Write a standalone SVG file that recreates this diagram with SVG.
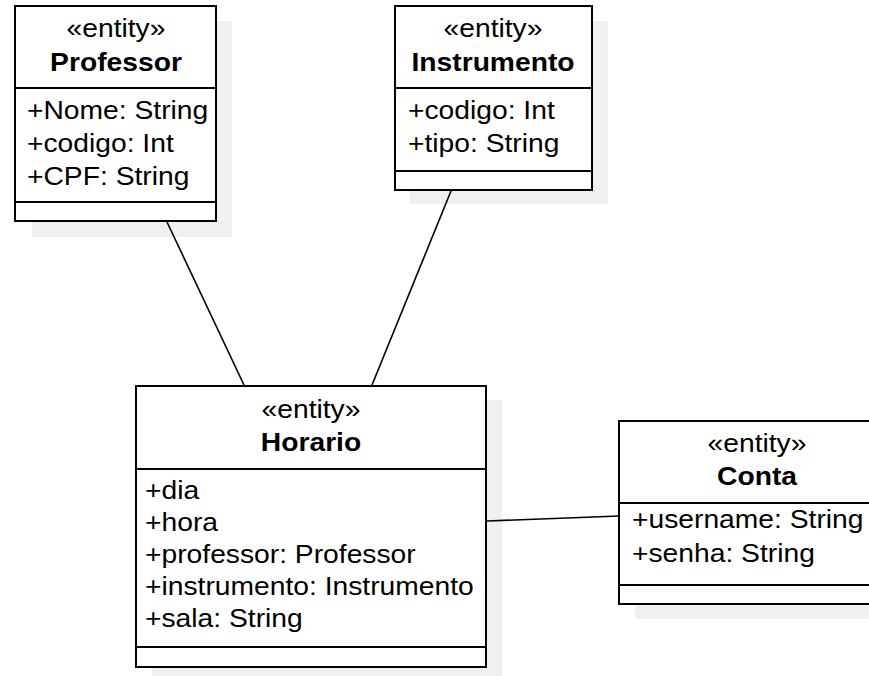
<svg xmlns="http://www.w3.org/2000/svg" width="869" height="676" viewBox="0 0 869 676">
<style>
.shadow{fill:#f0f0f0;stroke:none}
.box{fill:#ffffff;stroke:#000000;stroke-width:2}
.sep{stroke:#000000;stroke-width:2}
.conn{stroke:#000000;stroke-width:1.6;fill:none}
text{font-family:"Liberation Sans",Arial,sans-serif;font-size:25px;fill:#000000}
.st{text-anchor:middle}
.nm{text-anchor:middle;font-weight:bold}
</style>
<rect width="869" height="676" fill="#ffffff"/>
<g id="professor">
<rect class="shadow" x="32" y="21" width="200" height="216"/>
<rect class="box" x="15" y="6" width="201" height="215"/>
<line class="sep" x1="15" y1="88" x2="216" y2="88"/>
<line class="sep" x1="15" y1="202" x2="216" y2="202"/>
<text class="st" transform="translate(116,37) scale(1.13,1)">«entity»</text>
<text class="nm" transform="translate(116,71) scale(1.13,1)">Professor</text>
<text transform="translate(27,119) scale(1.13,1)">+Nome: String</text>
<text transform="translate(27,152) scale(1.13,1)">+codigo: Int</text>
<text transform="translate(27,185) scale(1.13,1)">+CPF: String</text>
</g>
<g id="instrumento">
<rect class="shadow" x="410" y="21" width="198" height="183"/>
<rect class="box" x="395" y="6" width="197" height="184"/>
<line class="sep" x1="395" y1="88" x2="592" y2="88"/>
<line class="sep" x1="395" y1="171" x2="592" y2="171"/>
<text class="st" transform="translate(493,37) scale(1.13,1)">«entity»</text>
<text class="nm" transform="translate(493,71) scale(1.13,1)">Instrumento</text>
<text transform="translate(408,119) scale(1.13,1)">+codigo: Int</text>
<text transform="translate(408,152) scale(1.13,1)">+tipo: String</text>
</g>
<g id="horario">
<rect class="shadow" x="152" y="400" width="350" height="280"/>
<rect class="box" x="136" y="386" width="350" height="281"/>
<line class="sep" x1="136" y1="469" x2="486" y2="469"/>
<line class="sep" x1="136" y1="647" x2="486" y2="647"/>
<text class="st" transform="translate(311,418) scale(1.13,1)">«entity»</text>
<text class="nm" transform="translate(311,451) scale(1.13,1)">Horario</text>
<text transform="translate(145,499) scale(1.13,1)">+dia</text>
<text transform="translate(145,531) scale(1.13,1)">+hora</text>
<text transform="translate(145,563) scale(1.13,1)">+professor: Professor</text>
<text transform="translate(145,595) scale(1.13,1)">+instrumento: Instrumento</text>
<text transform="translate(145,627) scale(1.13,1)">+sala: String</text>
</g>
<g id="conta">
<rect class="shadow" x="635" y="436" width="276" height="183"/>
<rect class="box" x="619" y="421" width="276" height="183"/>
<line class="sep" x1="619" y1="503" x2="895" y2="503"/>
<line class="sep" x1="619" y1="585" x2="895" y2="585"/>
<text class="st" transform="translate(757,452) scale(1.13,1)">«entity»</text>
<text class="nm" transform="translate(757,485) scale(1.13,1)">Conta</text>
<text transform="translate(632,528) scale(1.13,1)">+username: String</text>
<text transform="translate(632,562) scale(1.13,1)">+senha: String</text>
</g>
<g id="connectors">
<line class="conn" x1="167" y1="222" x2="244" y2="385"/>
<line class="conn" x1="451" y1="191" x2="372" y2="385"/>
<line class="conn" x1="487" y1="521" x2="619" y2="516"/>
</g>
</svg>
